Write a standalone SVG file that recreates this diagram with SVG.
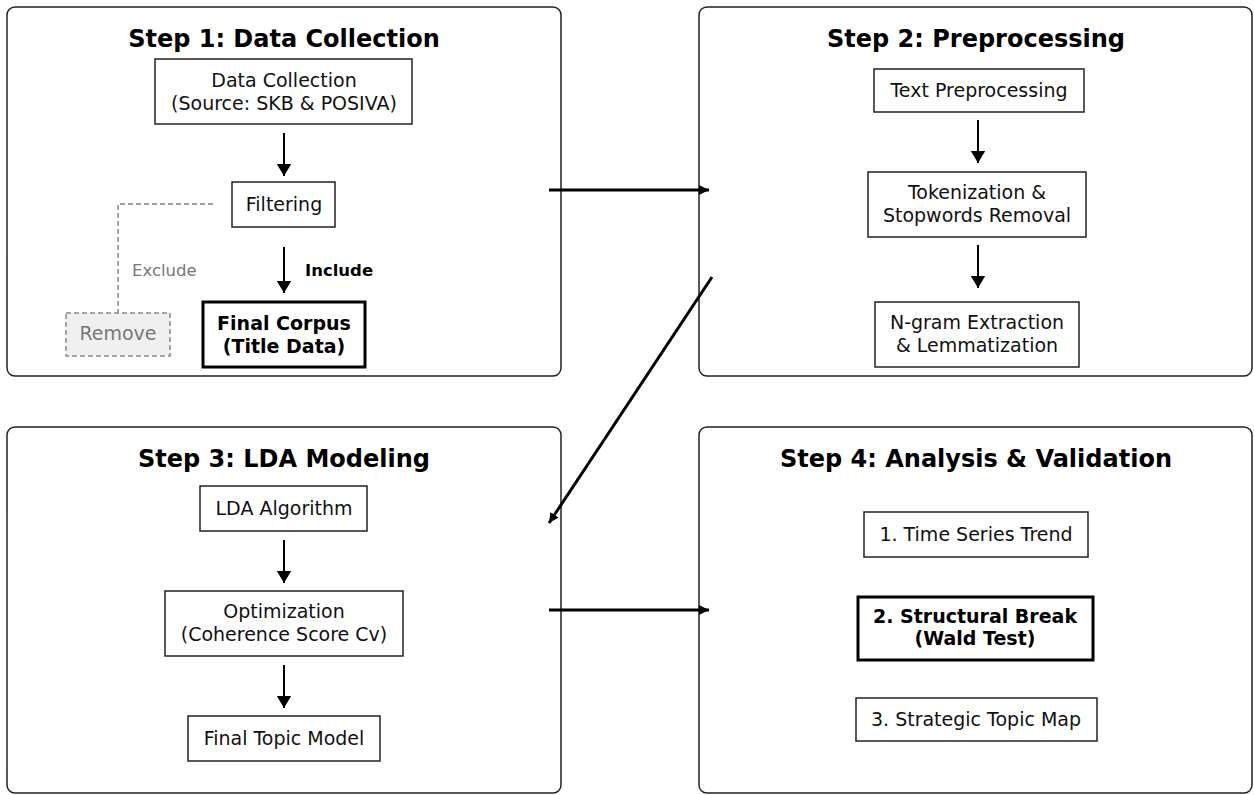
<svg xmlns="http://www.w3.org/2000/svg" width="1254" height="795" viewBox="0 0 1254 795">
<defs>
<marker id="ah" markerUnits="userSpaceOnUse" markerWidth="16" markerHeight="16" viewBox="0 0 16 16" refX="12" refY="8" orient="auto">
<path d="M0,0.8 L12,8 L0,15.2 Z" fill="#000"/>
</marker>
<marker id="ahs" markerUnits="userSpaceOnUse" markerWidth="12" markerHeight="12" viewBox="0 0 12 12" refX="10" refY="6" orient="auto">
<path d="M0,1 L10,6 L0,11 Z" fill="#000"/>
</marker>
</defs>
<style>
.panel{fill:#fff;stroke:#222;stroke-width:1.5}
.box{fill:#fff;stroke:#222;stroke-width:1.5}
.thick{fill:#fff;stroke:#000;stroke-width:3}
.title{font-family:"DejaVu Sans",sans-serif;font-size:24px;font-weight:bold;text-anchor:middle;fill:#000}
.t{font-family:"DejaVu Sans",sans-serif;font-size:19px;text-anchor:middle;fill:#111}
.tb{font-family:"DejaVu Sans",sans-serif;font-size:19px;font-weight:bold;text-anchor:middle;fill:#000}
.lbl{font-family:"DejaVu Sans",sans-serif;font-size:16.5px;fill:#000}
.arr{stroke:#000;stroke-width:2;fill:none;marker-end:url(#ah)}
.big{stroke:#000;stroke-width:3;fill:none;marker-end:url(#ahs)}
</style>
<rect width="1254" height="795" fill="#fff"/>
<g id="panel1">
<rect class="panel" x="7" y="7" width="554" height="369" rx="8"/>
<text class="title" x="284" y="47">Step 1: Data Collection</text>
</g>
<g id="panel2">
<rect class="panel" x="699" y="7" width="553" height="369" rx="8"/>
<text class="title" x="976" y="47">Step 2: Preprocessing</text>
</g>
<g id="panel3">
<rect class="panel" x="7" y="427" width="554" height="366" rx="8"/>
<text class="title" x="284" y="467">Step 3: LDA Modeling</text>
</g>
<g id="panel4">
<rect class="panel" x="699" y="427" width="553" height="366" rx="8"/>
<text class="title" x="976" y="467">Step 4: Analysis &amp; Validation</text>
</g>

<g id="data-collection">
<rect class="box" x="155" y="59" width="257" height="65"/>
<text class="t" x="284" y="87">Data Collection</text>
<text class="t" x="284" y="110">(Source: SKB &amp; POSIVA)</text>
</g>
<g id="filtering">
<rect class="box" x="232" y="182" width="103" height="45"/>
<text class="t" x="284" y="211">Filtering</text>
</g>
<g id="remove">
<rect x="66" y="313" width="104" height="43" fill="#f0f0f0" stroke="#888" stroke-width="1.5" stroke-dasharray="5,3"/>
<text class="t" x="118" y="340" style="fill:#777">Remove</text>
</g>
<g id="final-corpus">
<rect class="thick" x="203" y="302" width="162" height="65"/>
<text class="tb" x="284" y="330">Final Corpus</text>
<text class="tb" x="284" y="353">(Title Data)</text>
</g>

<g id="text-preprocessing">
<rect class="box" x="874" y="69" width="210" height="43"/>
<text class="t" x="979" y="97">Text Preprocessing</text>
</g>
<g id="tokenization">
<rect class="box" x="868" y="172" width="218" height="65"/>
<text class="t" x="977" y="199">Tokenization &amp;</text>
<text class="t" x="977" y="222">Stopwords Removal</text>
</g>
<g id="ngram">
<rect class="box" x="875" y="302" width="204" height="65"/>
<text class="t" x="977" y="329">N-gram Extraction</text>
<text class="t" x="977" y="352">&amp; Lemmatization</text>
</g>

<g id="lda-algorithm">
<rect class="box" x="200" y="486" width="167" height="45"/>
<text class="t" x="284" y="515">LDA Algorithm</text>
</g>
<g id="optimization">
<rect class="box" x="165" y="591" width="238" height="65"/>
<text class="t" x="284" y="618">Optimization</text>
<text class="t" x="284" y="641">(Coherence Score Cv)</text>
</g>
<g id="final-topic-model">
<rect class="box" x="188" y="716" width="192" height="45"/>
<text class="t" x="284" y="745">Final Topic Model</text>
</g>

<g id="time-series">
<rect class="box" x="864" y="512" width="224" height="45"/>
<text class="t" x="976" y="541">1. Time Series Trend</text>
</g>
<g id="structural-break">
<rect class="thick" x="858" y="597" width="235" height="63"/>
<text class="tb" x="975" y="623">2. Structural Break</text>
<text class="tb" x="975" y="645">(Wald Test)</text>
</g>
<g id="topic-map">
<rect class="box" x="856" y="698" width="241" height="43"/>
<text class="t" x="976" y="726">3. Strategic Topic Map</text>
</g>

<g id="connectors">
<line class="arr" x1="284" y1="133" x2="284" y2="176"/>
<line class="arr" x1="284" y1="247" x2="284" y2="293"/>
<polyline points="213,204 118,204 118,313" fill="none" stroke="#888" stroke-width="1.5" stroke-dasharray="5,3"/>
<text class="lbl" x="132" y="276" style="fill:#777">Exclude</text>
<text class="lbl" x="305" y="276" font-weight="bold">Include</text>
<line class="arr" x1="978" y1="120" x2="978" y2="163"/>
<line class="arr" x1="978" y1="245" x2="978" y2="288"/>
<line class="arr" x1="284" y1="540" x2="284" y2="583"/>
<line class="arr" x1="284" y1="665" x2="284" y2="708"/>
<line class="big" x1="549" y1="190" x2="709" y2="190"/>
<line class="big" x1="712" y1="277" x2="549" y2="523"/>
<line class="big" x1="549" y1="610" x2="709" y2="610"/>
</g>
</svg>
